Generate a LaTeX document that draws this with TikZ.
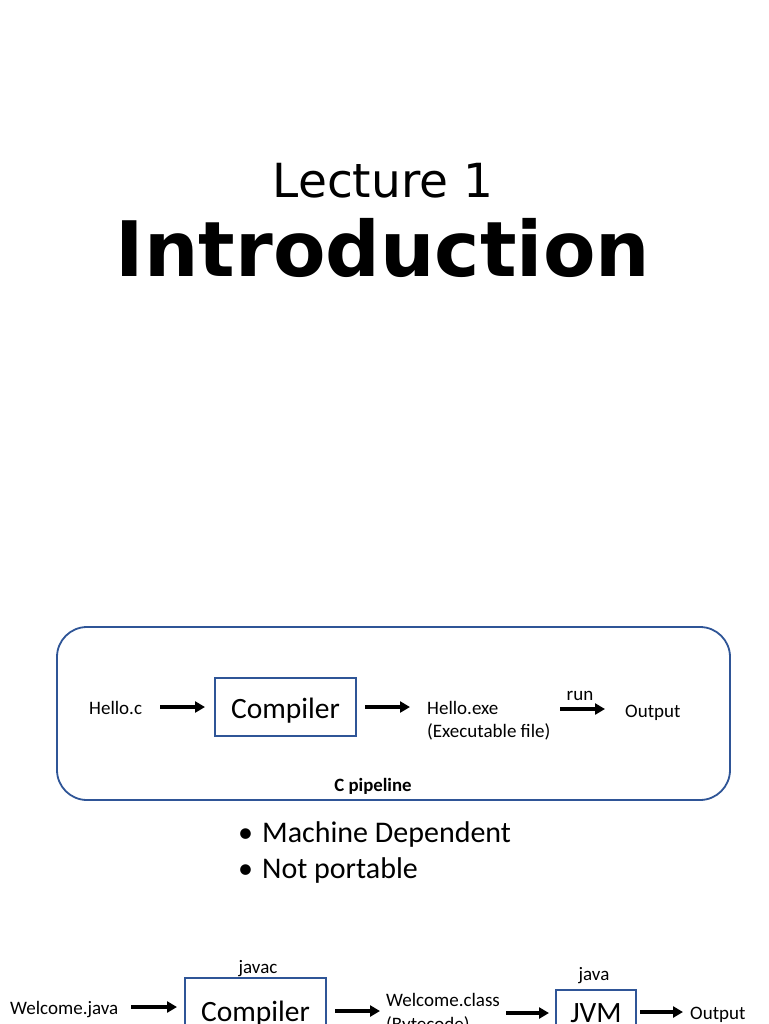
\documentclass[tikz,border=0pt]{standalone}
\usepackage{fontspec}
\setmainfont{Carlito}
\newfontfamily\titlefont{DejaVu Sans}
\usetikzlibrary{arrows.meta}
\definecolor{boxblue}{RGB}{47,85,151}
\tikzset{
  x=1pt, y=-1pt,
  lbl/.style={anchor=base west, inner sep=0pt, font=\fontsize{19}{22}\selectfont},
  lblc/.style={anchor=base, inner sep=0pt, font=\fontsize{19}{22}\selectfont},
  bigtxt/.style={anchor=base, inner sep=0pt, font=\fontsize{29.5}{34}\selectfont},
  procbox/.style={draw=boxblue, line width=1.6pt, fill=white},
  flow/.style={line width=3.5pt, -{Triangle[length=10pt,width=11pt]}},
}
\begin{document}
\begin{tikzpicture}
\useasboundingbox (0,0) rectangle (768,1024);
\clip (0,0) rectangle (768,1024);
\fill[white] (0,0) rectangle (768,1024);
% titles
\node[anchor=base, inner sep=0pt, font=\titlefont\fontsize{47}{50}\selectfont] (lec) at (383,198) {Lecture 1};
\node[anchor=base, inner sep=0pt, font=\titlefont\bfseries\fontsize{76.5}{80}\selectfont] (intro) at (383,276) {Introduction};
% C pipeline frame
\draw[boxblue, line width=1.8pt, rounded corners=30pt] (57,627) rectangle (730,800);
\draw[procbox] (215,678) rectangle (356,736);
\node[bigtxt] (comp1) at (285.5,718) {Compiler};
\node[lbl] (helloc) at (89,714) {Hello.c};
\coordinate (a1s) at (160,707);
\coordinate (a1e) at (205,707);
\draw[flow] (a1s) -- (a1e);
\coordinate (a2s) at (365,707);
\coordinate (a2e) at (410,707);
\draw[flow] (a2s) -- (a2e);
\node[lbl] (exe) at (427,714) {Hello.exe};
\node[lbl] (exe2) at (427,737) {(Executable file)};
\node[lblc] (run) at (580,700) {run};
\coordinate (a3s) at (560,709);
\coordinate (a3e) at (605,709);
\draw[flow] (a3s) -- (a3e);
\node[lbl] (out1) at (625,717) {Output};
\node[anchor=base, inner sep=0pt, font=\bfseries\fontsize{18.8}{22}\selectfont] (cpipe) at (373,791) {C pipeline};
% bullets
\node[anchor=base west, inner sep=0pt, font=\fontsize{30}{34}\selectfont] (b1) at (238,842) {\textbullet\hspace{9pt}Machine Dependent};
\node[anchor=base west, inner sep=0pt, font=\fontsize{30}{34}\selectfont] (b2) at (238,878) {\textbullet\hspace{9pt}Not portable};
% Java pipeline
\node[lbl] (wj) at (10,1014) {Welcome.java};
\coordinate (b1s) at (131,1007);
\coordinate (b1e) at (177,1007);
\draw[flow] (b1s) -- (b1e);
\draw[procbox] (185,978) rectangle (326,1060);
\node[lblc] (javac) at (258,973) {javac};
\node[bigtxt] (comp2) at (255.5,1021) {Compiler};
\coordinate (b2s) at (335,1011);
\coordinate (b2e) at (380,1011);
\draw[flow] (b2s) -- (b2e);
\node[lbl] (wc) at (386,1006) {Welcome.class};
\node[lbl] (bc) at (386,1030) {(Bytecode)};
\coordinate (b3s) at (506,1013);
\coordinate (b3e) at (549,1013);
\draw[flow] (b3s) -- (b3e);
\draw[procbox] (556,990) rectangle (636,1060);
\node[lblc] (java) at (594,980) {java};
\node[bigtxt] (jvm) at (596,1022) {JVM};
\coordinate (b4s) at (640,1012);
\coordinate (b4e) at (683,1012);
\draw[flow] (b4s) -- (b4e);
\node[lbl] (out2) at (690,1019) {Output};
\end{tikzpicture}
\end{document}
